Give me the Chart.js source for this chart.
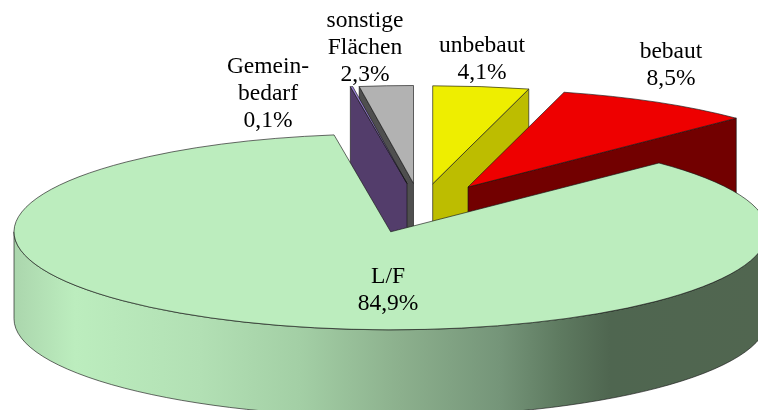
<!DOCTYPE html>
<html>
<head>
<meta charset="utf-8">
<style>html,body{margin:0;padding:0;background:#fff}canvas{display:block}</style>
<script src="https://cdn.jsdelivr.net/npm/chart.js@4"></script>
</head>
<body>
<canvas id="c" width="758" height="410"></canvas>
<script>
// data (clockwise from 12 o'clock)
const categories = [['unbebaut'], ['bebaut'], ['L/F'], ['Gemein-', 'bedarf'], ['sonstige', 'Flächen']];
const shares = [4.1, 8.5, 84.9, 0.1, 2.3];

// styles
const topColors = ['#EEEE00', '#EE0000', '#BCEDBE', '#9A7FD6', '#B2B2B2'];
const wallColors = ['#BDBD00', '#720000', '#536A53', '#533D6B', '#4F4F4F'];
const paintOrder = [4, 3, 0, 1, 2];

// layout of the tilted, exploded pie
const tilt = { rx: 376.7, ry: 98, depth: 87 };
const sliceCentres = [[432.7, 183.8], [468, 187], [390.7, 231.8], [407, 183.5], [413.5, 183.5]];
const labelCentres = [[482, 46], [671, 52], [388, 277], [268, 67], [365, 21]];
const labelFont = '23.5px "Liberation Serif"';
const labelLeading = 27;
const rimStops = [[14, '#ABD6AD'], [75, '#BCEDBE'], [200, '#B2E0B4'], [300, '#A3CFA5'], [400, '#8CB08D'], [500, '#759579'], [560, '#5E7A60'], [610, '#4F6650'], [758, '#516650']];
const edge = 'rgba(20,20,20,0.8)';

function drawWall(ctx, pts, fill) {
  ctx.beginPath();
  pts.forEach((p, i) => i ? ctx.lineTo(p[0], p[1]) : ctx.moveTo(p[0], p[1]));
  ctx.closePath();
  ctx.fillStyle = fill;
  ctx.fill();
  ctx.lineWidth = 0.8;
  ctx.strokeStyle = edge;
  ctx.stroke();
}

const tiltedPie = {
  id: 'tiltedPie',
  beforeDatasetDraw(chart, args) {
    const ctx = chart.ctx;
    const { rx, ry, depth } = tilt;
    paintOrder.forEach(i => {
      const arc = args.meta.data[i];
      const [ax, ay] = sliceCentres[i];
      const a0 = arc.startAngle, a1 = arc.endAngle;
      const px = a => ax + rx * Math.cos(a), py = a => ay + ry * Math.sin(a);
      // cut faces that turn toward the viewer
      if (Math.cos(a0) < -1e-6) {
        drawWall(ctx, [[ax, ay], [px(a0), py(a0)], [px(a0), py(a0) + depth], [ax, ay + depth]], wallColors[i]);
      }
      if (Math.cos(a1) > 1e-6) {
        drawWall(ctx, [[ax, ay], [px(a1), py(a1)], [px(a1), py(a1) + depth], [ax, ay + depth]], wallColors[i]);
      }
      // rim: the part of the arc on the near side
      const t0 = Math.max(a0, 0), t1 = Math.min(a1, Math.PI);
      if (t1 > t0) {
        const g = ctx.createLinearGradient(0, 0, 758, 0);
        rimStops.forEach(s => g.addColorStop(s[0] / 758, s[1]));
        ctx.beginPath();
        ctx.ellipse(ax, ay, rx, ry, 0, t0, t1);
        ctx.lineTo(px(t1), py(t1) + depth);
        ctx.ellipse(ax, ay + depth, rx, ry, 0, t1, t0, true);
        ctx.closePath();
        ctx.fillStyle = g;
        ctx.fill();
        ctx.lineWidth = 0.8;
        ctx.strokeStyle = edge;
        ctx.stroke();
      }
      // top face: the library's own arc element, flattened
      ctx.save();
      ctx.translate(ax, ay);
      ctx.scale(rx / arc.outerRadius, ry / arc.outerRadius);
      ctx.translate(-arc.x, -arc.y);
      arc.draw(ctx);
      ctx.restore();
      ctx.beginPath();
      ctx.moveTo(ax, ay);
      ctx.ellipse(ax, ay, rx, ry, 0, a0, a1);
      ctx.closePath();
      ctx.lineWidth = 0.8;
      ctx.strokeStyle = edge;
      ctx.stroke();
    });
    return false;
  },
  afterDatasetsDraw(chart) {
    const ctx = chart.ctx;
    ctx.save();
    ctx.font = labelFont;
    ctx.fillStyle = '#000';
    ctx.textAlign = 'center';
    ctx.textBaseline = 'middle';
    categories.forEach((lines, i) => {
      const pct = shares[i].toFixed(1).replace('.', ',') + '%';
      lines.concat([pct]).forEach((t, k) => {
        ctx.fillText(t, labelCentres[i][0], labelCentres[i][1] + k * labelLeading);
      });
    });
    ctx.restore();
  }
};

new Chart(document.getElementById('c'), {
  type: 'pie',
  data: {
    labels: categories.map(l => l.join(' ')),
    datasets: [{ data: shares, backgroundColor: topColors, borderWidth: 0 }]
  },
  options: {
    responsive: false,
    animation: false,
    rotation: 0,
    layout: { padding: 0 },
    plugins: { legend: { display: false }, tooltip: { enabled: false } }
  },
  plugins: [tiltedPie]
});
</script>
</body>
</html>
